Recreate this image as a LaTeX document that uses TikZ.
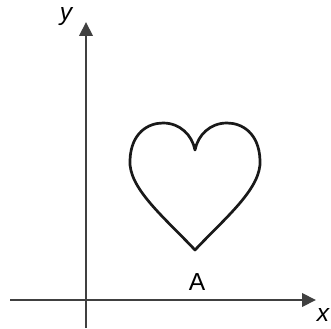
\documentclass[tikz,border=0pt]{standalone}
\usepackage{fontspec}
\setmainfont{Liberation Sans}
\usetikzlibrary{arrows.meta,positioning,calc}

\begin{document}
\begin{tikzpicture}[
    x=0.03cm, y=0.03cm,
    axis/.style={draw=black!75, line width=2.4pt, -{Triangle[length=0.42cm,width=0.4cm]}},
    curve/.style={draw=black!90, line width=2.3pt, line join=round},
    lbl/.style={font=\fontsize{21}{24}\selectfont, inner sep=0pt}
]
    \useasboundingbox (0,0) rectangle (331,328);

    % Axes
    \coordinate (xstart) at (10,28);
    \coordinate (xend) at (316,28);
    \coordinate (ystart) at (86,0);
    \coordinate (yend) at (86,306);
    \draw[axis] (xstart) -- (xend);
    \draw[axis] (ystart) -- (yend);

    % Axis labels
    \node[lbl] (ylabel) at (66,311) {\itshape y};
    \node[lbl] (xlabel) at (323,13) {\itshape x};

    % Heart
    \coordinate (tip) at (195,78);
    \coordinate (dip) at (195,178);
    \draw[curve] (tip)
        .. controls (165,110) and (128,140) .. (130,168)
        .. controls (131,195) and (148,205) .. (163,205)
        .. controls (180,205) and (192,193) .. (dip)
        .. controls (198,193) and (210,205) .. (227,205)
        .. controls (242,205) and (259,195) .. (260,168)
        .. controls (262,140) and (225,110) .. (tip) -- cycle;

    % Point label
    \node[lbl] (A) at (197,46) {A};
\end{tikzpicture}
\end{document}
